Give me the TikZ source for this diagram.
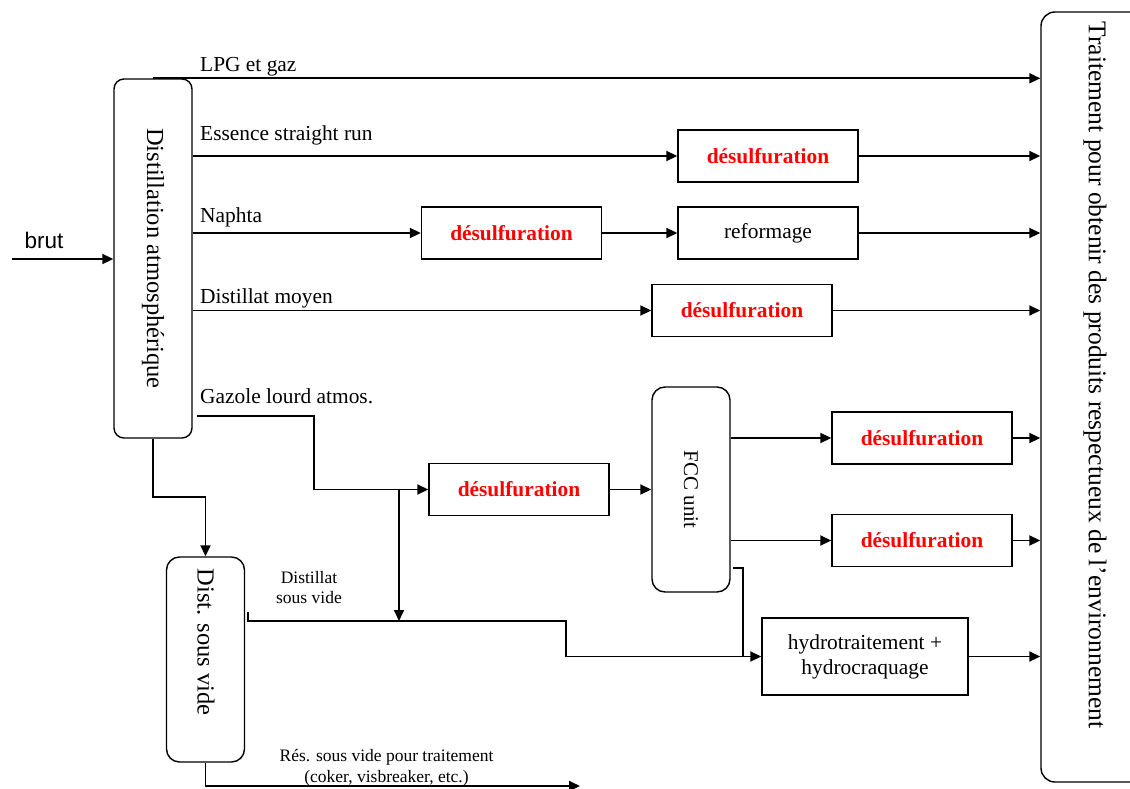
\documentclass[tikz,border=0pt]{standalone}
\usepackage{fontspec}
\setmainfont{Liberation Serif}
\newfontfamily\brutfont{Liberation Sans}
\usetikzlibrary{shapes, arrows.meta}

\tikzset{
	colonne/.style = {draw = black,
					  shape = rectangle,
					  rounded corners = 10pt,
					  line width = 1.4pt,
					  minimum width = 78pt,
					  inner sep = 0pt},
	vertical/.style = {inner sep = 0pt,
					   font = \fontsize{24.5}{28}\selectfont},
	unite/.style = {draw = black,
					shape = rectangle,
					line width = 1.4pt,
					minimum width = 180pt,
					minimum height = 52pt,
					inner sep = 0pt,
					font = \fontsize{21.4}{25}\selectfont},
	desulf/.style = {unite,
					 text = red,
					 font = \fontsize{21.4}{25}\selectfont\bfseries},
	flux/.style = {line width = 1.8pt, -{Triangle[length = 11pt, width = 10pt]}},
	trait/.style = {line width = 1.8pt},
	etiquette/.style = {anchor = base west,
						inner sep = 0pt,
						font = \fontsize{21.4}{25}\selectfont},
	petit/.style = {align = center,
					inner sep = 0pt,
					font = \fontsize{17.5}{20.5}\selectfont}
}

\begin{document}
\begin{tikzpicture}[x = 1pt, y = -1pt]
	\clip (0,0) rectangle (1130,789);

	% colonnes
	\draw (153,258.5) node[colonne,
						   minimum height = 359pt,
						   font = \fontsize{24.5}{28}\selectfont](A) {\rotatebox{-90}{Distillation atmosphérique}};
	\draw (205.5,659.5) node[colonne,
							 minimum height = 205pt,
							 rounded corners = 13pt](V) {};
	\draw (206,642) node[vertical](Vt) {\rotatebox{-90}{Dist. sous vide}};
	\draw (691,489.5) node[colonne,
						   minimum height = 205pt,
						   rounded corners = 13pt,
						   font = \fontsize{21}{25}\selectfont](F) {\rotatebox{-90}{FCC unit}};
	\draw (1096,397) node[colonne,
						  minimum width = 110pt,
						  minimum height = 770pt,
						  rounded corners = 14pt](T) {};
	\draw (1095,375) node[vertical,
						  font = \fontsize{25.5}{29}\selectfont](Tt) {\rotatebox{-90}{Traitement pour obtenir des produits respectueux de l'environnement}};

	% unites
	\draw (768,156) node[desulf](d1) {désulfuration};
	\draw (511.5,233) node[desulf](d2) {désulfuration};
	\draw (768,233) node[unite](ref) {reformage};
	\draw (742,310.5) node[desulf](d3) {désulfuration};
	\draw (519,489.5) node[desulf](d4) {désulfuration};
	\draw (922,438) node[desulf](d5) {désulfuration};
	\draw (922,540.5) node[desulf](d6) {désulfuration};
	\draw (865,656.5) node[unite,
						   minimum width = 206pt,
						   minimum height = 77pt,
						   align = center](H) {hydrotraitement +\\hydrocraquage};

	% textes
	\draw (44,240) node[font = \brutfont\fontsize{22.5}{27}\selectfont](brut) {brut};
	\draw (200,72) node[etiquette](lpg) {LPG et gaz};
	\draw (200,141) node[etiquette](ess) {Essence straight run};
	\draw (200,222) node[etiquette](nap) {Naphta};
	\draw (200,303) node[etiquette](dm) {Distillat moyen};
	\draw (200,403) node[etiquette](gla) {Gazole lourd atmos.};
	\draw (309,587.5) node[petit](dsv) {Distillat\\sous vide};
	\draw (386.5,768) node[petit](rsv) {Rés. sous vide pour traitement\\(coker, visbreaker, etc.)};

	\coordinate (entree) at (12,259);
	\coordinate (g0) at (197,416);
	\coordinate (g1) at (314,489.5);
	\coordinate (b0) at (399,489.5);
	\coordinate (b1) at (399,621);
	\coordinate (v0) at (248,612);
	\coordinate (v1) at (566,621);
	\coordinate (f0) at (733,568);
	\coordinate (f1) at (743,657);
	\coordinate (res) at (580,786);

	% flux
	\draw[flux] (entree) -- (entree -| A.west);
	\draw[flux] (A.north) -- (A.north -| T.west);
	\draw[flux] (A.east |- d1) -- (d1);
	\draw[flux] (d1) -- (d1 -| T.west);
	\draw[flux] (A.east |- d2) -- (d2);
	\draw[flux] (d2) -- (ref);
	\draw[flux] (ref) -- (ref -| T.west);
	\draw[flux] (A.east |- d3) -- (d3);
	\draw[flux] (d3) -- (d3 -| T.west);
	\draw[flux] (g0) -| (g1) -- (d4);
	\draw[flux] (b0) -- (b1);
	\draw[flux] (d4) -- (F);
	\draw[flux] (F.east |- d5) -- (d5);
	\draw[flux] (d5) -- (d5 -| T.west);
	\draw[flux] (F.east |- d6) -- (d6);
	\draw[flux] (d6) -- (d6 -| T.west);
	\draw[trait] (f0) -| (f1);
	\draw[flux] (v0) |- (v1) |- (H);
	\draw[flux] (H) -- (H -| T.west);
	\draw[flux] (A.south) -- ++(0,58) -| (V.north);
	\draw[flux] (V.south) |- (res);

\end{tikzpicture}
\end{document}
